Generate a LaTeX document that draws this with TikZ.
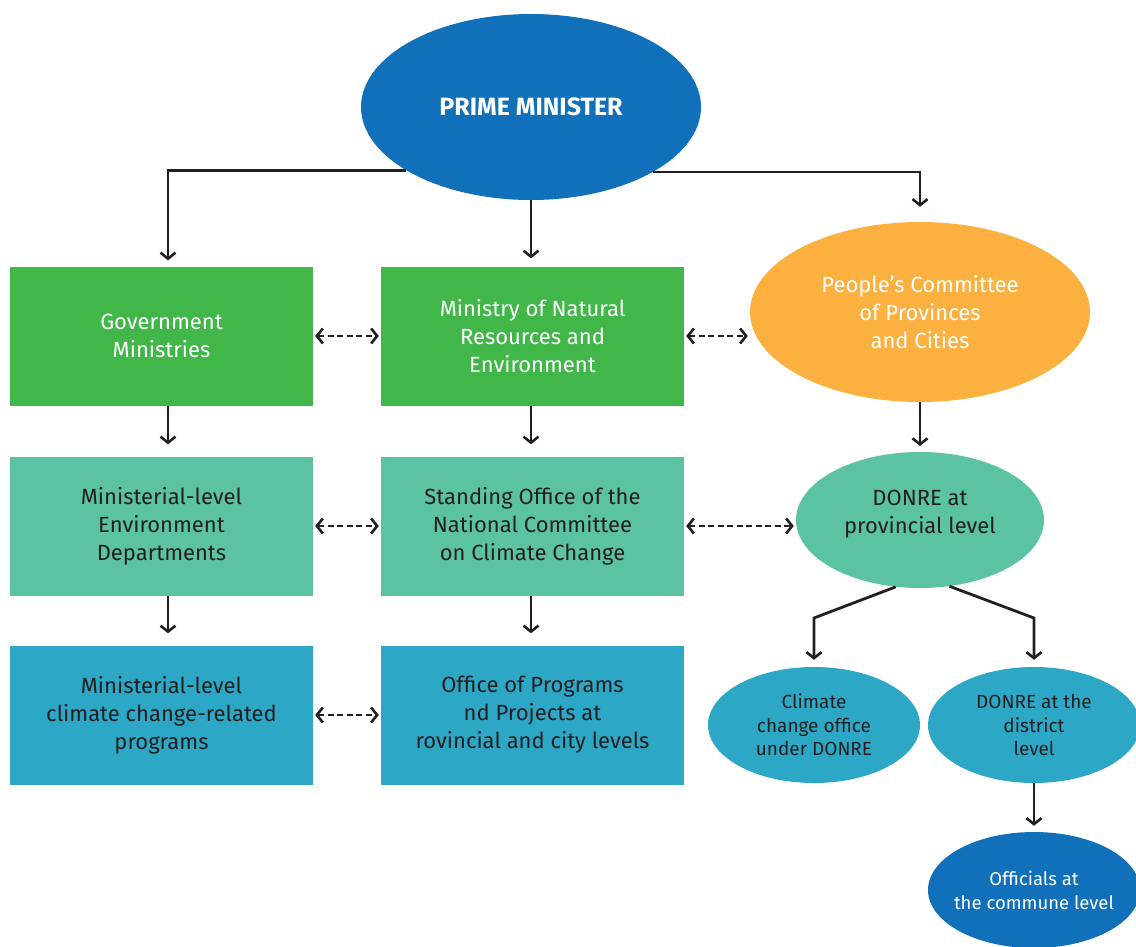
\documentclass[tikz,border=0pt]{standalone}
\usepackage{fontspec}
\setmainfont{Fira Sans}
\usetikzlibrary{shapes.geometric,arrows.meta}
\definecolor{pmblue}{HTML}{1071BA}
\definecolor{mgreen}{HTML}{41B649}
\definecolor{mteal}{HTML}{5BC2A3}
\definecolor{mcyan}{HTML}{2CA8C6}
\definecolor{morange}{HTML}{FBB040}
\definecolor{ink}{HTML}{231F20}
\tikzset{
  box/.style={rectangle,minimum width=303pt,minimum height=139pt,inner sep=0pt,align=center,font=\fontsize{22}{28}\selectfont},
  oval/.style={ellipse,inner sep=0pt,align=center},
  chev/.style={-{Straight Barb[length=6pt,width=15pt,line width=2.6pt]}},
  conn/.style={draw=ink,line width=2.8pt,chev},
  dconn/.style={draw=ink,line width=2.8pt,dash pattern=on 6pt off 3.5pt,
    {Straight Barb[length=6pt,width=15pt,line width=2.6pt]}-{Straight Barb[length=6pt,width=15pt,line width=2.6pt]}},
}
\begin{document}
\begin{tikzpicture}[x=1pt,y=-1pt]
\useasboundingbox (0,0) rectangle (1136,946);
% top
\node[oval,fill=pmblue,minimum width=340pt,minimum height=186pt,text=white,font=\fontsize{25}{28}\selectfont\bfseries] (pm) at (531,107) {PRIME MINISTER};
% row 1
\node[box,fill=mgreen,text=white] (gov) at (161.5,336) {Government\\Ministries};
\node[box,fill=mgreen,text=white] (mon) at (532.5,336) {Ministry of Natural\\Resources and\\Environment};
\node[oval,fill=morange,text=white,minimum width=340pt,minimum height=180pt,font=\fontsize{22}{28}\selectfont] (pc) at (920,312) {People's Committee\\of Provinces\\and Cities};
% row 2
\node[box,fill=mteal,text=ink] (med) at (161.5,526) {Ministerial-level\\Environment\\Departments};
\node[box,fill=mteal,text=ink] (so) at (532.5,526) {Standing Office of the\\National Committee\\on Climate Change};
\node[oval,fill=mteal,text=ink,minimum width=248pt,minimum height=136pt,text depth=17pt,font=\fontsize{22}{28}\selectfont] (dp) at (920,520) {DONRE at\\provincial level};
% row 3
\node[box,fill=mcyan,text=ink] (mcc) at (161.5,715) {Ministerial-level\\climate change-related\\programs};
\node[box,fill=mcyan,text=ink] (op) at (532.5,715) {Office of Programs\\nd Projects at\\rovincial and city levels};
\node[oval,fill=mcyan,text=ink,minimum width=212pt,minimum height=116pt,font=\fontsize{19}{23.5}\selectfont] (cc) at (814,725) {Climate\\change office\\under DONRE};
\node[oval,fill=mcyan,text=ink,minimum width=212pt,minimum height=116pt,font=\fontsize{19}{23.5}\selectfont] (dd) at (1034,725) {DONRE at the\\district\\level};
\node[oval,fill=pmblue,text=white,minimum width=212pt,minimum height=116pt,inner xsep=-12pt,font=\fontsize{18.5}{24}\selectfont] (oc) at (1034,890) {Officials at\\the commune level};
% helper coordinates for the arrow columns
\coordinate (cl) at (168,0);
\coordinate (cm) at (531,0);
% solid connectors
\draw[conn,shorten >=6pt] (pm.207.5) -| (cl |- gov.north);
\draw[conn,shorten >=8pt] (pm.south) -- (cm |- mon.north);
\draw[conn,shorten >=15pt] (pm.332.5) -| (pc.north);
\draw[conn,shorten >=12pt] (cl |- gov.south) -- (cl |- med.north);
\draw[conn,shorten >=12pt] (cm |- mon.south) -- (cm |- so.north);
\draw[conn,shorten >=12pt] (pc.south) -- (920,458);
\draw[conn,shorten >=12pt] (cl |- med.south) -- (cl |- mcc.north);
\draw[conn,shorten >=12pt] (cm |- so.south) -- (cm |- op.north);
\coordinate (k1) at (814,618);
\coordinate (k2) at (1034,618);
\draw[conn,shorten >=7pt] (dp.250) -- (k1) -- (cc.north);
\draw[conn,shorten >=7pt] (dp.294) -- (k2) -- (dd.north);
\draw[conn,shorten >=6pt] (dd.south) -- (oc.north);
% dashed connectors
\draw[dconn,shorten <=2pt,shorten >=2pt] (gov.east) -- (mon.west);
\draw[dconn,shorten <=2pt,shorten >=2pt] (mon.east) -- (mon.east -| pc.west);
\draw[dconn,shorten <=2pt,shorten >=2pt] (med.east) -- (so.west);
\draw[dconn,shorten <=2pt,shorten >=2pt] (so.east) -- (so.east -| dp.west);
\draw[dconn,shorten <=2pt,shorten >=2pt] (mcc.east) -- (op.west);
\end{tikzpicture}
\end{document}
